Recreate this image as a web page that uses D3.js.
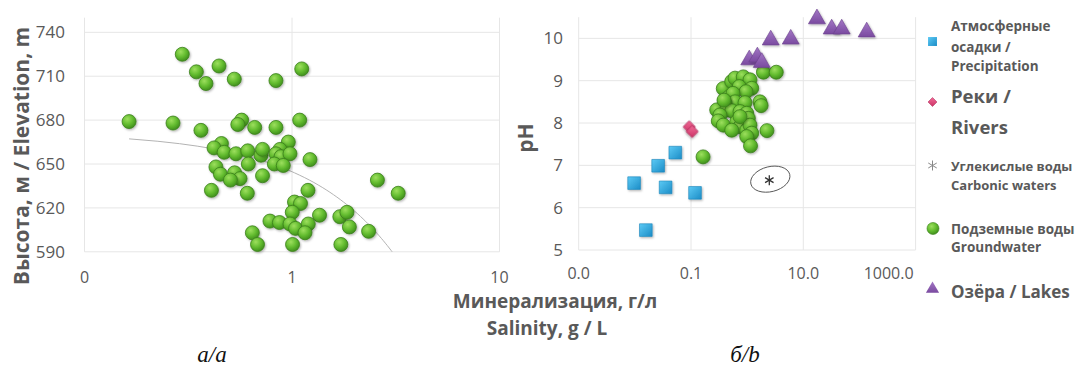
<!DOCTYPE html>
<html><head><meta charset="utf-8">
<script src="https://cdn.jsdelivr.net/npm/d3@7"></script>
<style>
html,body{margin:0;padding:0;background:#fff;}
svg{display:block;}
</style></head>
<body>
<svg id="c" width="1080" height="369"></svg>
<script>
// ---------- DATA ----------
// Panel a: groundwater salinity (g/L) vs elevation (m)
const gwSalinityA = [0.164,0.267,0.296,0.346,0.385,0.445,0.527,0.837,1.114,0.364,0.572,0.548,0.661,0.837,1.089,0.96,0.457,0.421,0.471,0.537,0.612,0.709,0.721,0.875,0.837,0.885,0.978,0.822,0.908,1.221,0.616,0.430,0.452,0.529,0.562,0.505,0.721,0.409,0.609,1.194,1.028,1.099,1.003,1.357,0.783,0.87,0.978,1.04,1.198,1.155,0.644,0.682,1.006,2.58,3.25,1.70,1.84,1.89,2.34,1.72];
const gwElevationA = [679,678,725,713,705,717,708,707,715,673,680,677,675,675,680,665,664,661,658,657,659,656,660,660,657,655,657,650,649,653,650,648,643,644,640,639,642,632,630,632,624,623,617,615,611,610,609,606,609,603,603,595,595,639,630,614,617,607,604,595];
// trendline end points (salinity, elevation)
const trendSalinity = [0.164, 3.25];
const trendElevation = [667.2, 584.3];
const elevTicks = [590,620,650,680,710,740];
const salTicksA = [0.1,1,10];
const salTickLabelsA = ["0","1","10"];

// Panel b: salinity (g/L) vs pH
const precipSal = [0.0097,0.026,0.0525,0.0353,0.118,0.0157];
const precipPH  = [6.58,6.99,7.30,6.48,6.35,5.47];
const riverSal = [0.093,0.105];
const riverPH  = [7.91,7.80];
const carbSal = [2.48];
const carbPH  = [6.65];
const groundSal = [0.164,1.95,3.30,0.376,0.531,0.608,0.853,1.124,0.724,1.205,0.955,0.481,0.56,1.69,1.77,0.608,0.916,0.403,0.287,0.432,0.531,0.328,0.746,0.982,0.306,0.376,0.652,1.05,0.746,0.531,0.982,1.124,2.25,1.205,0.982,1.148,0.746,0.387];
const groundPH  = [7.20,9.20,9.20,8.815,8.98,9.06,9.09,9.02,8.86,8.82,8.74,8.62,8.70,8.50,8.41,8.50,8.48,8.47,8.31,8.31,8.29,8.19,8.27,8.23,8.05,7.95,8.03,8.11,7.91,7.83,7.83,7.95,7.82,7.76,7.68,7.46,8.15,8.54];
const lakeSal = [17.5,32,48.3,134.6,2.63,5.97,1.09,1.52,1.82];
const lakePH  = [10.46,10.22,10.22,10.15,9.96,9.98,9.49,9.56,9.43];
const phTicks = [5,6,7,8,9,10];
const salTicksB = [0.001,0.1,10,1000];
const salTickLabelsB = ["0.0","0.1","10.0","1000.0"];

const legendLabels = [
  ["Атмосферные","осадки /","Precipitation"],
  ["Реки /","Rivers"],
  ["Углекислые воды","Carbonic waters"],
  ["Подземные воды","Groundwater"],
  ["Озёра / Lakes"]
];

// ---------- DRAW ----------
const SANS = '"Open Sans","Noto Sans",sans-serif';
const SERIF = '"Liberation Serif","DejaVu Serif",serif';
const svg = d3.select("#c").style("font-family", SANS);
const TXT = "#595959", GRID = "#e6e6e6";
const defs = svg.append("defs");
const gg = defs.append("radialGradient").attr("id","gGreen").attr("cx","38%").attr("cy","32%").attr("r","70%");
gg.append("stop").attr("offset","0%").attr("stop-color","#9ddf5e");
gg.append("stop").attr("offset","55%").attr("stop-color","#63bc2f");
gg.append("stop").attr("offset","100%").attr("stop-color","#3f8e1c");
const gb = defs.append("linearGradient").attr("id","gBlue").attr("x1","0").attr("y1","0").attr("x2","1").attr("y2","1");
gb.append("stop").attr("offset","0%").attr("stop-color","#5ccaf5");
gb.append("stop").attr("offset","100%").attr("stop-color","#1b8cc6");
const gp = defs.append("linearGradient").attr("id","gPink").attr("x1","0").attr("y1","0").attr("x2","1").attr("y2","1");
gp.append("stop").attr("offset","0%").attr("stop-color","#f06a96");
gp.append("stop").attr("offset","100%").attr("stop-color","#cc3366");
const gv = defs.append("linearGradient").attr("id","gPurple").attr("x1","0").attr("y1","0").attr("x2","0").attr("y2","1");
gv.append("stop").attr("offset","0%").attr("stop-color","#a276c4");
gv.append("stop").attr("offset","100%").attr("stop-color","#7a4aa0");
const sh = defs.append("filter").attr("id","shadow").attr("x","-50%").attr("y","-50%").attr("width","200%").attr("height","200%");
sh.append("feDropShadow").attr("dx",1).attr("dy",1.2).attr("stdDeviation",0.9).attr("flood-color","#000").attr("flood-opacity",0.3);

// ---- Panel a ----
const xA = d3.scaleLog().domain([0.1,10]).range([84.5,499.5]);
const yA = d3.scaleLinear().domain([590,750]).range([251.8,17.7]);
const gA = svg.append("g");
gA.selectAll("line.h").data(elevTicks).join("line")
  .attr("x1",xA.range()[0]).attr("x2",xA.range()[1])
  .attr("y1",d=>yA(d)).attr("y2",d=>yA(d)).attr("stroke",GRID).attr("stroke-width",1);
gA.selectAll("line.v").data(salTicksA).join("line")
  .attr("x1",d=>xA(d)).attr("x2",d=>xA(d))
  .attr("y1",yA(750)).attr("y2",yA(590)).attr("stroke",GRID).attr("stroke-width",1);
gA.selectAll("text.yt").data(elevTicks).join("text")
  .attr("x",65).attr("y",d=>yA(d)+6).attr("text-anchor","end")
  .attr("font-size",17).attr("fill",TXT).text(d=>d);
gA.selectAll("text.xt").data(salTicksA).join("text")
  .attr("x",d=>xA(d)).attr("y",283).attr("text-anchor","middle")
  .attr("font-size",16).attr("fill",TXT).text((d,i)=>salTickLabelsA[i]);
// trend line
defs.append("clipPath").attr("id","clipA").append("rect")
  .attr("x",84.5).attr("y",17.7).attr("width",415).attr("height",251.8-17.7);
const tSamples = d3.range(0,1.0001,0.02).map(t=>{
  const s = trendSalinity[0] + t*(trendSalinity[1]-trendSalinity[0]);
  const e = trendElevation[0] + t*(trendElevation[1]-trendElevation[0]);
  return [s,e];
});
gA.append("path").datum(tSamples).attr("clip-path","url(#clipA)")
  .attr("d",d3.line().x(d=>xA(d[0])).y(d=>yA(d[1])))
  .attr("fill","none").attr("stroke","#b3b3b3").attr("stroke-width",1);
gA.selectAll("circle.pt").data(gwSalinityA.map((s,i)=>[s,gwElevationA[i]])).join("circle")
  .attr("cx",d=>xA(d[0])).attr("cy",d=>yA(d[1])).attr("r",7)
  .attr("fill","url(#gGreen)").attr("stroke","#3b7f1c").attr("stroke-width",0.8)
  .attr("filter","url(#shadow)");
svg.append("text").attr("transform","translate(29,156) rotate(-90)")
  .attr("text-anchor","middle").attr("font-size",21).attr("font-weight","bold")
  .attr("fill",TXT).text("Высота, м / Elevation, m");

// ---- Panel b ----
const xB = d3.scaleLog().domain([0.001,1000]).range([578.7,915.6]);
const yB = d3.scaleLinear().domain([5,10.5]).range([250,17.2]);
const gB = svg.append("g");
gB.selectAll("line.h").data(phTicks).join("line")
  .attr("x1",xB.range()[0]).attr("x2",xB.range()[1])
  .attr("y1",d=>yB(d)).attr("y2",d=>yB(d)).attr("stroke",GRID).attr("stroke-width",1);
gB.selectAll("line.v").data(salTicksB).join("line")
  .attr("x1",d=>xB(d)).attr("x2",d=>xB(d))
  .attr("y1",yB(10.5)).attr("y2",yB(5)).attr("stroke",GRID).attr("stroke-width",1);
gB.selectAll("text.yt").data(phTicks).join("text")
  .attr("x",563).attr("y",d=>yB(d)+6).attr("text-anchor","end")
  .attr("font-size",17).attr("fill",TXT).text(d=>d);
gB.selectAll("text.xt").data(salTicksB).join("text")
  .attr("x",(d,i)=> i===salTicksB.length-1 ? xB(d)-2 : xB(d))
  .attr("y",279).attr("text-anchor",(d,i)=> i===salTicksB.length-1 ? "end":"middle")
  .attr("font-size",16).attr("fill",TXT).text((d,i)=>salTickLabelsB[i]);

const sq = d3.symbol().type(d3.symbolSquare).size(160);
const dia = d3.symbol().type(d3.symbolSquare).size(72);
const tri = d3.symbol().type(d3.symbolTriangle).size(125);
// precipitation
gB.selectAll("path.pr").data(precipSal.map((s,i)=>[s,precipPH[i]])).join("path")
  .attr("transform",d=>`translate(${xB(d[0])},${yB(d[1])})`).attr("d",sq)
  .attr("fill","url(#gBlue)").attr("stroke","#1a84bb").attr("stroke-width",0.6).attr("filter","url(#shadow)");
// rivers
gB.selectAll("path.rv").data(riverSal.map((s,i)=>[s,riverPH[i]])).join("path")
  .attr("transform",d=>`translate(${xB(d[0])},${yB(d[1])}) rotate(45)`).attr("d",dia)
  .attr("fill","url(#gPink)").attr("stroke","#b02a5a").attr("stroke-width",0.6).attr("filter","url(#shadow)");
// groundwater
gB.selectAll("circle.gw").data(groundSal.map((s,i)=>[s,groundPH[i]])).join("circle")
  .attr("cx",d=>xB(d[0])).attr("cy",d=>yB(d[1])).attr("r",7)
  .attr("fill","url(#gGreen)").attr("stroke","#3b7f1c").attr("stroke-width",0.8).attr("filter","url(#shadow)");
// lakes
gB.selectAll("path.lk").data(lakeSal.map((s,i)=>[s,lakePH[i]])).join("path")
  .attr("transform",d=>`translate(${xB(d[0])},${yB(d[1])})`).attr("d",tri)
  .attr("fill","url(#gPurple)").attr("stroke","#6a3f8c").attr("stroke-width",0.6).attr("filter","url(#shadow)");
// carbonic
function star(g, x, y, r, col, w){
  g.append("line").attr("x1",x).attr("x2",x).attr("y1",y-r).attr("y2",y+r).attr("stroke",col).attr("stroke-width",w);
  g.append("line").attr("x1",x-r*0.85).attr("x2",x+r*0.85).attr("y1",y-r*0.5).attr("y2",y+r*0.5).attr("stroke",col).attr("stroke-width",w);
  g.append("line").attr("x1",x-r*0.85).attr("x2",x+r*0.85).attr("y1",y+r*0.5).attr("y2",y-r*0.5).attr("stroke",col).attr("stroke-width",w);
}
carbSal.forEach((s,i)=>{
  const cx = xB(s), cy = yB(carbPH[i]);
  star(gB, cx, cy, 5, "#333", 1.3);
  gB.append("ellipse").attr("cx",cx+1).attr("cy",cy-1).attr("rx",20).attr("ry",12.5)
    .attr("transform",`rotate(-14,${cx+1},${cy-1})`)
    .attr("fill","none").attr("stroke","#555").attr("stroke-width",0.9);
});
svg.append("text").attr("transform","translate(533,138) rotate(-90)")
  .attr("text-anchor","middle").attr("font-size",21).attr("font-weight","bold")
  .attr("fill",TXT).text("pH");

// shared x title
svg.append("text").attr("x",555).attr("y",308).attr("text-anchor","middle")
  .attr("font-size",19).attr("font-weight","bold").attr("fill",TXT).text("Минерализация, г/л");
svg.append("text").attr("x",547).attr("y",335).attr("text-anchor","middle")
  .attr("font-size",19).attr("font-weight","bold").attr("fill",TXT).text("Salinity, g / L");
// captions
svg.append("text").attr("x",212).attr("y",362).attr("text-anchor","middle")
  .style("font-family",SERIF).attr("font-style","italic").attr("font-size",23)
  .attr("fill","#111").text("а/a");
svg.append("text").attr("x",745).attr("y",362).attr("text-anchor","middle")
  .style("font-family",SERIF).attr("font-style","italic").attr("font-size",23)
  .attr("fill","#111").text("б/b");

// ---- Legend ----
const L = svg.append("g");
const lx = 951;
L.append("path").attr("transform","translate(932.5,41.5)").attr("d",d3.symbol().type(d3.symbolSquare).size(80)).attr("fill","url(#gBlue)");
L.append("path").attr("transform","translate(932.5,102) rotate(45)").attr("d",d3.symbol().type(d3.symbolSquare).size(40)).attr("fill","url(#gPink)").attr("stroke","#b02a5a").attr("stroke-width",0.5);
star(L, 932.5, 165.5, 5, "#888", 1);
L.append("circle").attr("cx",933).attr("cy",228.5).attr("r",6).attr("fill","url(#gGreen)").attr("stroke","#3b7f1c").attr("stroke-width",0.6);
L.append("path").attr("transform","translate(932.5,289)").attr("d",d3.symbol().type(d3.symbolTriangle).size(75)).attr("fill","url(#gPurple)");
const legendY = [[31,51.5,71],[103,133.5],[171,190],[233.5,252],[298]];
const legendSize = [13.5,18.5,13,13.5,17];
legendLabels.forEach((lines,i)=>{
  lines.forEach((t,j)=>{
    L.append("text").attr("x",lx).attr("y",legendY[i][j]).attr("font-size",legendSize[i])
      .attr("font-weight","bold").attr("fill",TXT).text(t);
  });
});
</script>
</body></html>
